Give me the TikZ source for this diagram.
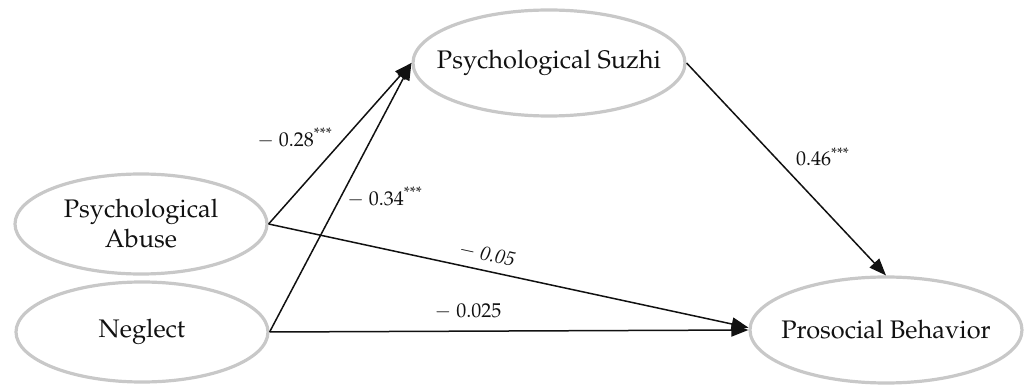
\documentclass[tikz,border=0pt]{standalone}
\usepackage[T1]{fontenc}
\usepackage{mathpazo}
\usepackage{xcolor}
\usepackage{tikz}
\usetikzlibrary{positioning,shapes.geometric,arrows.meta}
\definecolor{ring}{HTML}{C8C8C8}
\definecolor{ink}{HTML}{111111}

\begin{document}
\begin{tikzpicture}[x=0.5pt, y=-0.5pt,
    construct/.style={ellipse, draw=ring, line width=1.6pt, inner xsep=-8pt, inner ysep=0pt, align=center, font=\fontsize{12.7}{15}\selectfont, text=ink},
    effect/.style={draw=ink, line width=0.75pt, -{Triangle[length=8.5pt,width=6.5pt]}},
    coef/.style={font=\fontsize{10}{12}\selectfont, text=ink, inner sep=1pt}]
  \useasboundingbox (0,0) rectangle (1025,385);
  \node[construct, minimum width=126pt, minimum height=50pt] (abuse) at (141,224) {Psychological\\Abuse};
  \node[construct, minimum width=126pt, minimum height=50pt] (neglect) at (142,332) {Neglect};
  \node[construct, minimum width=136pt, minimum height=53pt] (suzhi) at (549,63) {Psychological Suzhi};
  \node[construct, minimum width=136pt, minimum height=53pt] (proso) at (886,330) {Prosocial Behavior};

  \draw[effect] (abuse.east) -- (suzhi.west);
  \draw[effect] (neglect.east) -- (suzhi.west);
  \draw[effect] (abuse.east) -- (proso.179);
  \draw[effect] (neglect.east) -- (proso.west);
  \draw[effect] (suzhi.east) -- (proso.north);

  \node[coef] (c1) at (295,138) {$-$ 0.28\textsuperscript{***}};
  \node[coef] (c2) at (385,197) {$-$ 0.34\textsuperscript{***}};
  \node[coef] (c3) at (823,157) {0.46\textsuperscript{***}};
  \node[coef, rotate=-12.3] (c4) at (487,255) {\textit{$-$ 0.05}};
  \node[coef] (c5) at (468,311) {$-$ 0.025};
\end{tikzpicture}
\end{document}
